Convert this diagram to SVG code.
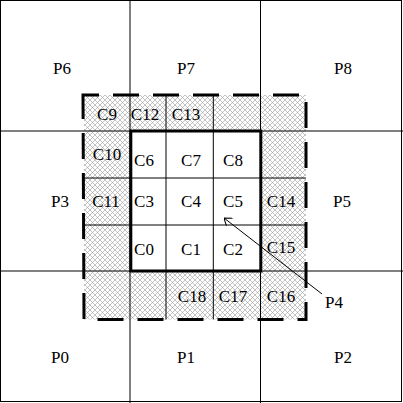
<svg xmlns="http://www.w3.org/2000/svg" width="403" height="403" viewBox="0 0 403 403">
<style>
text{font-family:"Liberation Serif","Times New Roman",serif;font-size:17px;fill:#000;text-anchor:middle}
.thin{stroke:#000;stroke-width:1;fill:none}
</style>
<defs>
<pattern id="hatch" patternUnits="userSpaceOnUse" width="5" height="5">
<path d="M0,0 L5,5 M5,0 L0,5" stroke="#9a9a9a" stroke-width="0.6" fill="none"/>
</pattern>
<marker id="open" markerUnits="userSpaceOnUse" viewBox="0 0 10 10" refX="10" refY="5" markerWidth="10" markerHeight="10" orient="auto">
<path d="M3,0 L10,5 L3,10" fill="none" stroke="#000" stroke-width="1"/>
</marker>
</defs>
<rect x="0" y="0" width="403" height="403" fill="#fff"/>
<g id="hatched-area">
<rect x="84" y="95" width="222" height="224.5" fill="url(#hatch)"/>
<rect x="130.8" y="131" width="130" height="140" fill="#fff"/>
</g>
<g id="grid">
<rect class="thin" x="0.5" y="0.5" width="401" height="401"/>
<path class="thin" d="M130,0 V403 M260.5,0 V403 M0,131 H403 M0,271 H403"/>
<path class="thin" d="M166,95 V319.5 M213.3,95 V319.5 M84,178 H306 M84,225 H306"/>
</g>
<path id="dashed-border" d="M83,95 H306 V319.5 H84 Z" fill="none" stroke="#000" stroke-width="3" stroke-dasharray="26 14" stroke-dashoffset="10"/>
<rect id="center-block" x="130.8" y="131" width="130" height="140" fill="none" stroke="#000" stroke-width="3"/>
<g id="labels-p">
<text x="62" y="74">P6</text>
<text x="186" y="74">P7</text>
<text x="343" y="74">P8</text>
<text x="60" y="207">P3</text>
<text x="342" y="207">P5</text>
<text x="60" y="363">P0</text>
<text x="186" y="363">P1</text>
<text x="343" y="363">P2</text>
<text x="334" y="308">P4</text>
</g>
<g id="labels-c">
<text x="107" y="120">C9</text>
<text x="145" y="120">C12</text>
<text x="186" y="120">C13</text>
<text x="107" y="160">C10</text>
<text x="144" y="166">C6</text>
<text x="191" y="166">C7</text>
<text x="233" y="166">C8</text>
<text x="106" y="207">C11</text>
<text x="144" y="207">C3</text>
<text x="191" y="207">C4</text>
<text x="233" y="207">C5</text>
<text x="281" y="207">C14</text>
<text x="144" y="255">C0</text>
<text x="191" y="255">C1</text>
<text x="233" y="255">C2</text>
<text x="281" y="253">C15</text>
<text x="192" y="302">C18</text>
<text x="233" y="302">C17</text>
<text x="281" y="302">C16</text>
</g>
<g id="connectors">
<line x1="322" y1="294" x2="224" y2="218" stroke="#000" stroke-width="1" marker-end="url(#open)"/>
</g>
</svg>
